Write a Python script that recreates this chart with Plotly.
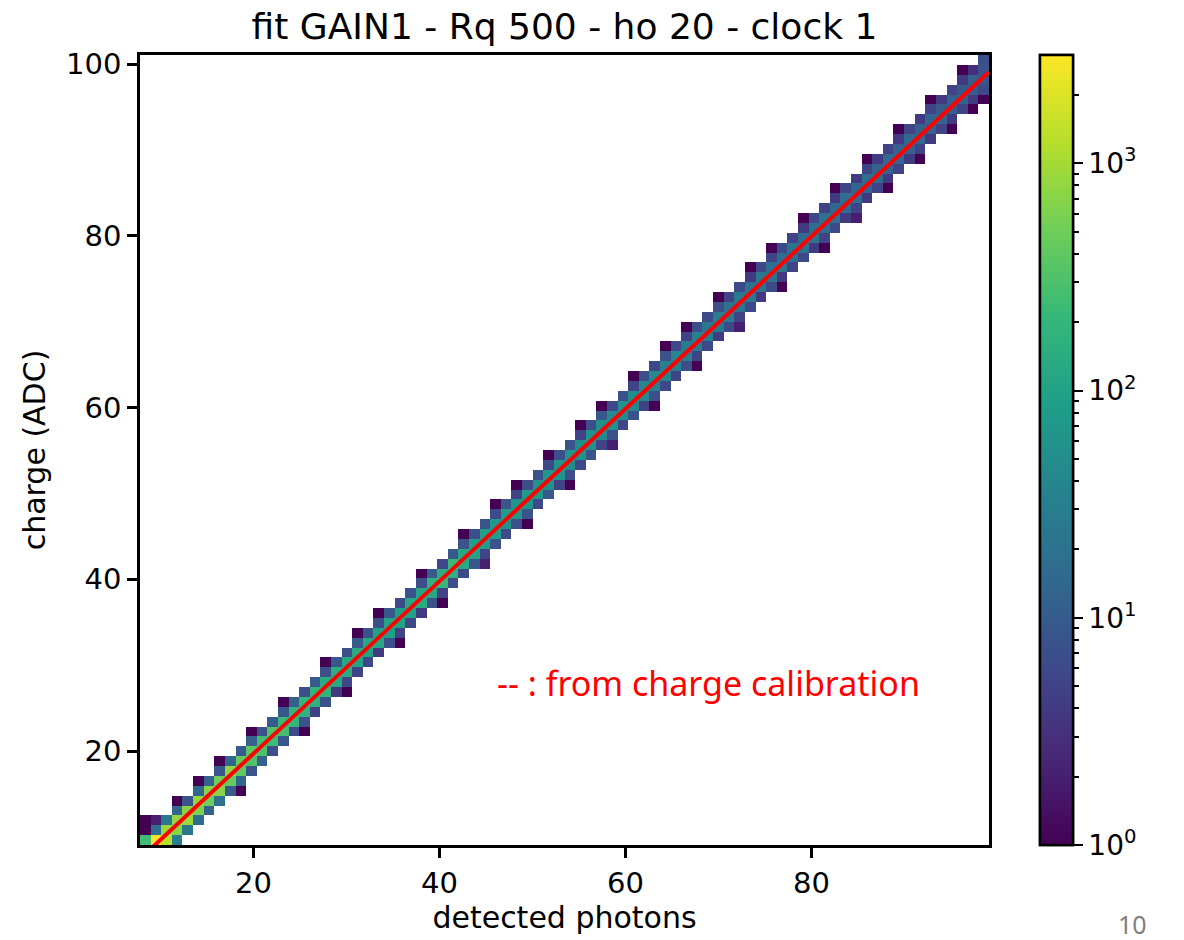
import numpy as np
import plotly.graph_objects as go

# ---------------- data ----------------
x_range = [7.8, 99.1]      # detected photons (histogram range)
y_range = [9.06, 101.05]   # charge (ADC)
n_bins = 80

# per x-bin column: first y-bin index, then counts going upward
band_start = [0, 0, 0, 0, 1, 2, 3, 4, 5, 5,
              7, 8, 9, 10, 11, 11, 13, 14, 15, 15,
              17, 18, 19, 20, 20, 22, 23, 24, 24, 26,
              27, 28, 28, 30, 31, 32, 32, 34, 35, 36,
              36, 38, 39, 40, 40, 42, 43, 44, 44, 46,
              47, 48, 48, 50, 51, 52, 52, 54, 55, 56,
              56, 58, 59, 60, 60, 62, 63, 63, 65, 66,
              66, 68, 69, 69, 71, 72, 72, 74, 74, 75]
band_counts = [
    [250, 1, 1], [2800, 18, 2], [1300, 900, 25], [30, 700, 800, 15, 1], [25, 900, 700, 8],
    [18, 600, 800, 15, 1], [12, 500, 700, 12], [20, 700, 500, 9, 1], [10, 450, 800, 14], [1, 14, 400, 450, 10],
    [8, 320, 380, 12, 1], [12, 300, 260, 8], [7, 240, 320, 10], [9, 260, 220, 9, 1], [6, 210, 190, 11],
    [1, 8, 170, 200, 7], [5, 160, 180, 10], [8, 180, 140, 7, 1], [4, 130, 150, 9], [1, 6, 140, 120, 7],
    [5, 110, 130, 10, 1], [6, 100, 120, 8], [4, 120, 95, 7, 1], [7, 90, 110, 9], [1, 5, 100, 90, 6],
    [6, 95, 120, 8], [4, 140, 110, 7, 1], [8, 120, 170, 10], [1, 5, 210, 150, 6], [7, 160, 230, 9],
    [6, 130, 120, 8, 1], [9, 100, 90, 7], [2, 5, 80, 95, 8], [8, 85, 70, 6, 1], [6, 65, 80, 9],
    [7, 70, 65, 5, 1], [1, 8, 65, 75, 7], [6, 75, 55, 8], [9, 55, 70, 6, 1], [5, 65, 60, 7],
    [1, 7, 50, 65, 8], [6, 60, 50, 5, 1], [8, 55, 60, 7], [5, 45, 55, 9, 1], [2, 7, 55, 45, 6],
    [6, 50, 55, 8], [8, 40, 50, 5, 1], [5, 45, 40, 7], [1, 7, 35, 45, 6], [6, 40, 35, 8, 1],
    [5, 35, 40, 6], [7, 32, 28, 5, 1], [1, 5, 28, 33, 7], [6, 33, 25, 6], [4, 25, 30, 7, 1],
    [6, 28, 22, 5], [2, 5, 22, 27, 6], [6, 25, 20, 4, 1], [4, 20, 24, 6], [6, 22, 18, 5, 1],
    [1, 4, 24, 17, 6], [5, 18, 22, 5], [6, 20, 16, 4, 1], [4, 22, 17, 6], [1, 5, 17, 20, 5],
    [6, 19, 15, 4, 1], [4, 16, 18, 5], [2, 5, 18, 14, 4], [4, 14, 17, 5, 1], [5, 16, 13, 4],
    [1, 4, 13, 16, 5], [5, 15, 12, 4, 1], [4, 12, 15, 5], [1, 5, 14, 11, 4], [4, 11, 13, 5, 1],
    [5, 13, 10, 4], [1, 4, 10, 12, 5], [5, 12, 9, 4, 1], [1, 4, 10, 11, 3], [1, 6, 9, 8, 7],
]
count_max = 3000

fit_slope = 1.0035
fit_intercept = -0.37

x_ticks = [20, 40, 60, 80]
y_ticks = [20, 40, 60, 80, 100]
title_text = "fit GAIN1 - Rq 500 - ho 20 - clock 1"
x_label = "detected photons"
y_label = "charge (ADC)"
note_text = "-- : from charge calibration"
page_number = "10"

# ---------------- build histogram grid ----------------
x_edges = np.linspace(x_range[0], x_range[1], n_bins + 1)
y_edges = np.linspace(y_range[0], y_range[1], n_bins + 1)
xc = (x_edges[:-1] + x_edges[1:]) / 2
yc = (y_edges[:-1] + y_edges[1:]) / 2
z = np.full((n_bins, n_bins), np.nan)
for i, (s, cnts) in enumerate(zip(band_start, band_counts)):
    for k, c in enumerate(cnts):
        j = s + k
        if 0 <= j < n_bins and c > 0:
            z[j, i] = np.log10(c)

zmax = np.log10(count_max)
major = [0, 1, 2, 3]
minor = [np.log10(m * 10 ** d) for d in range(3) for m in range(2, 10)] + [np.log10(2000)]

font_mpl = "DejaVu Sans"
cb_common = dict(x=1.06, xanchor="left", y=0.5, yanchor="middle", len=1.0, lenmode="fraction",
                 thickness=33, ypad=0, xpad=0, outlinewidth=2.5, outlinecolor="black",
                 ticks="outside", tickcolor="black", tickwidth=2)

fig = go.Figure()
fig.add_trace(go.Heatmap(
    x=xc, y=yc, z=z, colorscale="Viridis", zmin=0, zmax=zmax, hoverongaps=False,
    colorbar=dict(**cb_common, tickmode="array", tickvals=minor, ticklen=5, showticklabels=False),
))
fig.add_trace(go.Heatmap(
    x=xc, y=yc, z=z, colorscale="Viridis", zmin=0, zmax=zmax, hoverongaps=False,
    colorbar=dict(**cb_common, tickmode="array", tickvals=major, ticklen=9,
                  ticktext=[f"10<sup>{d}</sup>" for d in major],
                  tickfont=dict(family=font_mpl, size=28, color="black")),
))

fit_x = np.array(x_range)
fig.add_trace(go.Scatter(x=fit_x, y=fit_slope * fit_x + fit_intercept, mode="lines",
                         line=dict(color="red", width=4), showlegend=False, hoverinfo="skip"))

axis_common = dict(showgrid=False, zeroline=False, showline=True, linecolor="black", linewidth=2.5,
                   mirror=True, ticks="outside", ticklen=10, tickwidth=2.5, tickcolor="black",
                   tickfont=dict(family=font_mpl, size=29, color="black"))
fig.update_xaxes(range=x_range, tickmode="array", tickvals=x_ticks, **axis_common,
                 title=dict(text=x_label, font=dict(family=font_mpl, size=30, color="black"), standoff=4))
fig.update_yaxes(range=y_range, tickmode="array", tickvals=y_ticks, **axis_common,
                 title=dict(text=y_label, font=dict(family=font_mpl, size=30, color="black"), standoff=12))

fig.update_layout(
    width=1184, height=940,
    margin=dict(l=140, r=195, t=55, b=95, autoexpand=False),
    paper_bgcolor="white", plot_bgcolor="white",
    title=dict(text=title_text, x=(140 + 989) / 2 / 1184, xanchor="center", y=1 - 26 / 940, yanchor="middle",
               font=dict(family=font_mpl, size=36, color="black")),
    showlegend=False,
    annotations=[
        dict(text=note_text, xref="paper", yref="paper", x=0.670, y=0.205, xanchor="center", yanchor="middle",
             showarrow=False, font=dict(family="Noto Sans", size=34, color="red")),
        dict(text=page_number, xref="paper", yref="paper", x=1.1696, y=-0.1, xanchor="center",
             yanchor="middle", showarrow=False, borderpad=0,
             font=dict(family="Noto Sans", size=25, color="#7f7f7f")),
    ],
)

fig.write_html("out.html")
